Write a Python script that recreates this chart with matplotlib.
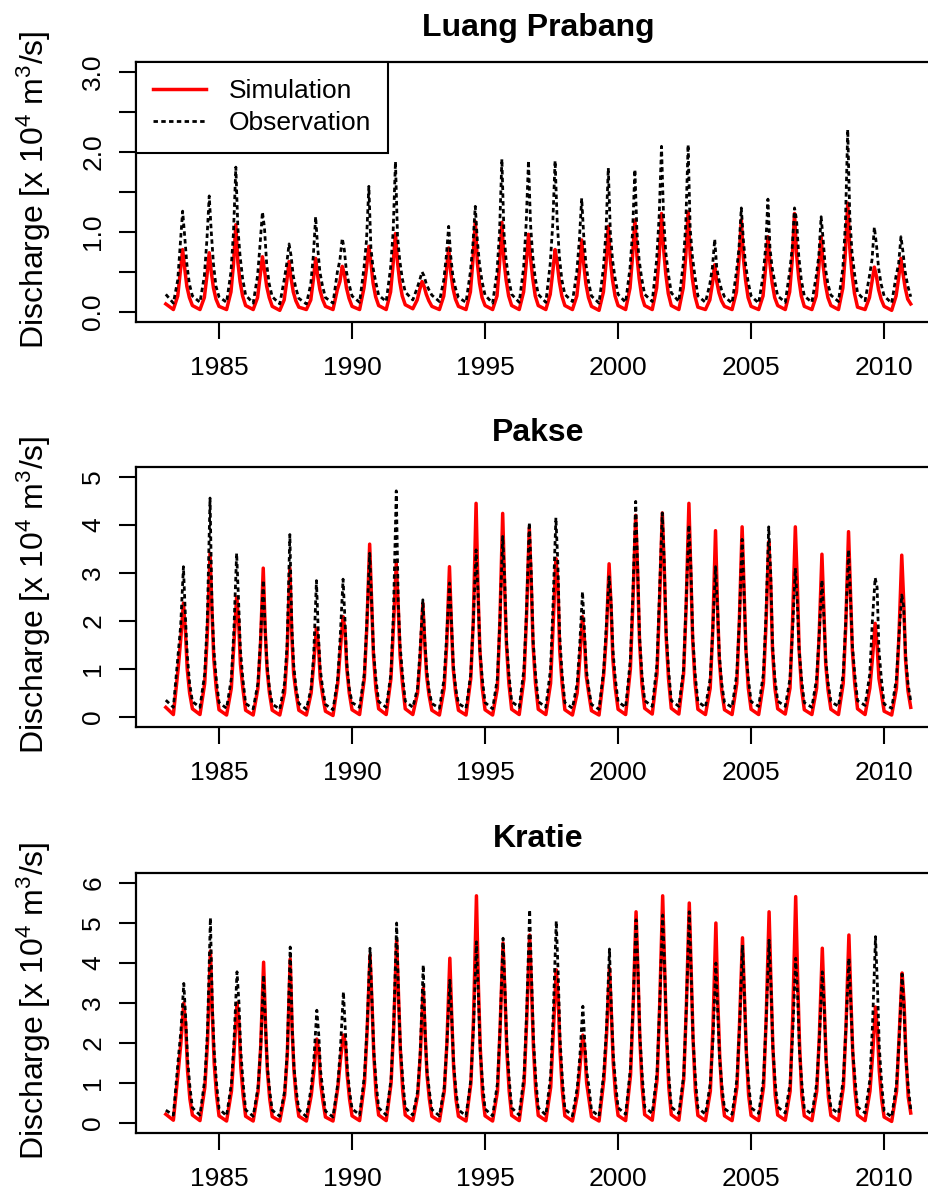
import numpy as np
import matplotlib
matplotlib.use("Agg")
import matplotlib.pyplot as plt

plt.rcParams["font.family"] = ["Liberation Sans", "DejaVu Sans"]
plt.rcParams["mathtext.fontset"] = "custom"
plt.rcParams["mathtext.rm"] = "Liberation Sans"
plt.rcParams["mathtext.it"] = "Liberation Sans"

# hydrological years shown
years = list(range(1983, 2011))
year_ticks = [1985, 1990, 1995, 2000, 2005, 2010]

# day-of-year of the key points read for each year (jan, low, jun, jul, peak, sep, oct, nov)
lp_days = [1, 105, 165, 200, 232, 260, 290, 325]
pk_days = [1, 105, 170, 205, 243, 270, 295, 328]
kr_days = [1, 105, 172, 208, 248, 275, 300, 332]

# ---- Luang Prabang (x 10^4 m3/s) ----
lp_obs_jan = [0.22, 0.20, 0.19, 0.21, 0.19, 0.17, 0.18, 0.20, 0.21, 0.25, 0.21, 0.18, 0.21, 0.22, 0.22,
              0.22, 0.20, 0.22, 0.22, 0.24, 0.20, 0.19, 0.20, 0.20, 0.20, 0.21, 0.24, 0.20, 0.19]
lp_obs_low = [0.11, 0.12, 0.12, 0.11, 0.10, 0.10, 0.11, 0.12, 0.13, 0.15, 0.13, 0.12, 0.11, 0.12,
              0.12, 0.13, 0.11, 0.12, 0.13, 0.13, 0.12, 0.11, 0.11, 0.12, 0.12, 0.13, 0.14, 0.11]
lp_obs_jun = [0.40, 0.45, 0.50, 0.45, 0.40, 0.35, 0.50, 0.55, 0.55, 0.30, 0.40, 0.50, 0.50, 0.55,
              0.60, 0.50, 0.55, 0.55, 0.65, 0.60, 0.35, 0.50, 0.45, 0.50, 0.45, 0.55, 0.45, 0.45]
lp_obs_jul = [0.85, 0.90, 1.00, 0.85, 0.60, 0.70, 0.65, 0.90, 1.00, 0.40, 0.70, 0.85, 1.00, 1.10,
              1.10, 0.90, 1.00, 1.00, 1.20, 1.10, 0.55, 0.80, 0.80, 0.80, 0.70, 1.10, 0.65, 0.60]
lp_obs_peak = [1.26, 1.45, 1.81, 1.25, 0.85, 1.19, 0.92, 1.57, 1.88, 0.50, 1.07, 1.32, 1.91, 1.89,
               1.89, 1.42, 1.80, 1.78, 2.07, 2.09, 0.91, 1.30, 1.41, 1.30, 1.19, 2.28, 1.06, 0.94]
lp_obs_sep = [0.95, 1.00, 1.05, 1.05, 0.70, 0.80, 0.78, 0.80, 0.95, 0.45, 0.70, 0.90, 1.00, 1.10,
              1.15, 0.95, 1.00, 1.00, 1.20, 1.05, 0.55, 0.90, 0.80, 1.15, 0.90, 1.20, 0.85, 0.75]
lp_obs_oct = [0.60, 0.60, 0.70, 0.60, 0.45, 0.50, 0.50, 0.55, 0.65, 0.35, 0.45, 0.60, 0.65, 0.70,
              0.70, 0.60, 0.65, 0.65, 0.75, 0.70, 0.40, 0.60, 0.55, 0.70, 0.55, 0.75, 0.55, 0.50]
lp_obs_nov = [0.35, 0.32, 0.42, 0.35, 0.30, 0.33, 0.35, 0.38, 0.42, 0.28, 0.30, 0.38, 0.42, 0.42,
              0.40, 0.38, 0.42, 0.42, 0.48, 0.45, 0.28, 0.38, 0.38, 0.40, 0.35, 0.48, 0.35, 0.33]

lp_sim_jan = [0.10, 0.08, 0.07, 0.08, 0.07, 0.06, 0.07, 0.07, 0.08, 0.09, 0.07, 0.07, 0.08, 0.08, 0.08,
              0.08, 0.07, 0.08, 0.08, 0.08, 0.06, 0.07, 0.07, 0.08, 0.07, 0.08, 0.06, 0.07, 0.10]
lp_sim_low = [0.03, 0.03, 0.03, 0.03, 0.02, 0.03, 0.03, 0.03, 0.03, 0.04, 0.03, 0.03, 0.03, 0.03,
              0.03, 0.03, 0.02, 0.03, 0.03, 0.03, 0.03, 0.03, 0.03, 0.03, 0.03, 0.03, 0.03, 0.02]
lp_sim_jun = [0.20, 0.18, 0.25, 0.18, 0.15, 0.15, 0.28, 0.30, 0.25, 0.15, 0.20, 0.25, 0.20, 0.25,
              0.22, 0.20, 0.25, 0.30, 0.30, 0.30, 0.15, 0.25, 0.20, 0.25, 0.20, 0.30, 0.18, 0.20]
lp_sim_jul = [0.50, 0.45, 0.60, 0.45, 0.38, 0.40, 0.38, 0.55, 0.60, 0.28, 0.50, 0.65, 0.60, 0.60,
              0.50, 0.50, 0.60, 0.70, 0.70, 0.70, 0.35, 0.65, 0.55, 0.65, 0.55, 0.75, 0.38, 0.42]
lp_sim_peak = [0.78, 0.74, 1.09, 0.69, 0.63, 0.67, 0.57, 0.82, 0.98, 0.38, 0.80, 1.13, 1.12, 0.97,
               0.78, 0.90, 1.07, 1.15, 1.23, 1.25, 0.59, 1.15, 0.94, 1.23, 0.94, 1.36, 0.56, 0.67]
lp_sim_sep = [0.55, 0.50, 0.62, 0.52, 0.42, 0.45, 0.48, 0.62, 0.62, 0.32, 0.50, 0.62, 0.65, 0.68,
              0.62, 0.60, 0.65, 0.70, 0.80, 0.72, 0.38, 0.68, 0.60, 0.72, 0.58, 0.80, 0.45, 0.48]
lp_sim_oct = [0.32, 0.30, 0.38, 0.32, 0.25, 0.28, 0.30, 0.36, 0.38, 0.22, 0.30, 0.36, 0.40, 0.42,
              0.38, 0.35, 0.40, 0.42, 0.48, 0.42, 0.24, 0.40, 0.36, 0.42, 0.35, 0.48, 0.28, 0.30]
lp_sim_nov = [0.18, 0.16, 0.20, 0.18, 0.14, 0.16, 0.17, 0.19, 0.20, 0.14, 0.16, 0.18, 0.20, 0.20,
              0.20, 0.18, 0.20, 0.20, 0.23, 0.20, 0.14, 0.18, 0.18, 0.20, 0.18, 0.23, 0.16, 0.16]

# ---- Pakse ----
pk_obs_jan = [0.35, 0.32, 0.30, 0.28, 0.27, 0.28, 0.26, 0.30, 0.32, 0.33, 0.28, 0.28, 0.30, 0.32, 0.32,
              0.30, 0.26, 0.32, 0.34, 0.34, 0.32, 0.30, 0.32, 0.33, 0.30, 0.32, 0.34, 0.27, 0.33]
pk_obs_low = [0.20, 0.20, 0.18, 0.17, 0.16, 0.16, 0.15, 0.20, 0.20, 0.20, 0.18, 0.18, 0.17, 0.20,
              0.20, 0.18, 0.16, 0.20, 0.22, 0.22, 0.20, 0.20, 0.22, 0.22, 0.20, 0.22, 0.24, 0.18]
pk_obs_jun = [1.30, 0.90, 0.80, 0.70, 0.70, 0.60, 0.80, 0.90, 0.90, 0.60, 0.80, 0.90, 0.80, 1.00,
              1.00, 0.70, 1.00, 1.20, 1.10, 1.00, 0.80, 0.90, 0.90, 0.80, 0.80, 0.90, 0.90, 0.80]
pk_obs_jul = [1.90, 2.00, 1.80, 1.60, 1.50, 1.30, 1.70, 2.00, 2.20, 1.40, 1.70, 2.00, 2.00, 2.20,
              2.40, 1.50, 1.90, 2.60, 2.60, 2.40, 1.80, 2.00, 2.10, 1.80, 1.70, 2.00, 2.00, 1.70]
pk_obs_peak = [3.13, 4.56, 3.41, 2.85, 3.80, 2.84, 2.87, 3.41, 4.71, 2.44, 2.79, 3.48, 3.76, 4.05,
               4.15, 2.61, 2.92, 4.49, 4.25, 4.00, 3.13, 3.70, 3.96, 3.10, 2.85, 3.48, 2.90, 2.54]
pk_obs_sep = [2.10, 2.30, 2.40, 1.80, 1.90, 1.70, 2.00, 2.40, 2.40, 1.60, 2.00, 2.60, 2.90, 3.00,
              3.20, 1.80, 2.40, 3.10, 3.20, 3.10, 2.30, 2.60, 3.00, 2.40, 2.10, 2.50, 2.70, 2.30]
pk_obs_oct = [1.30, 1.40, 1.40, 1.10, 1.10, 1.00, 1.10, 1.40, 1.50, 1.00, 1.10, 1.40, 1.60, 1.60,
              1.70, 1.00, 1.40, 1.70, 1.80, 1.70, 1.30, 1.40, 1.50, 1.40, 1.20, 1.50, 1.40, 1.30]
pk_obs_nov = [0.70, 0.80, 0.80, 0.60, 0.60, 0.60, 0.60, 0.80, 0.90, 0.55, 0.60, 0.80, 0.90, 0.90,
              0.90, 0.60, 0.80, 0.90, 1.00, 0.90, 0.70, 0.80, 0.80, 0.80, 0.70, 0.90, 0.80, 0.70]

pk_sim_jan = [0.20, 0.17, 0.15, 0.14, 0.14, 0.14, 0.12, 0.15, 0.17, 0.17, 0.14, 0.14, 0.15, 0.16, 0.16,
              0.15, 0.13, 0.16, 0.18, 0.18, 0.16, 0.15, 0.16, 0.17, 0.15, 0.16, 0.17, 0.12, 0.20]
pk_sim_low = [0.05, 0.05, 0.04, 0.04, 0.04, 0.04, 0.03, 0.05, 0.05, 0.05, 0.04, 0.04, 0.04, 0.05,
              0.05, 0.04, 0.04, 0.05, 0.06, 0.06, 0.05, 0.05, 0.05, 0.06, 0.05, 0.05, 0.05, 0.04]
pk_sim_jun = [1.00, 0.70, 0.60, 0.60, 0.50, 0.50, 0.70, 0.80, 0.80, 0.50, 0.60, 0.80, 0.60, 0.80,
              0.70, 0.50, 0.90, 1.00, 0.90, 0.90, 0.60, 0.70, 0.70, 0.60, 0.60, 0.70, 0.60, 0.60]
pk_sim_jul = [1.60, 1.70, 1.50, 1.50, 1.30, 1.10, 1.40, 1.90, 1.90, 1.20, 1.50, 2.00, 2.00, 2.10,
              1.90, 1.20, 1.70, 2.40, 2.40, 2.30, 1.80, 2.00, 1.90, 2.00, 1.70, 1.90, 1.20, 1.70]
pk_sim_peak = [2.37, 3.41, 2.50, 3.10, 3.10, 1.85, 2.09, 3.60, 3.20, 2.37, 3.13, 4.45, 4.24, 3.94,
               3.30, 2.09, 3.19, 4.20, 4.25, 4.45, 3.88, 3.96, 3.65, 3.96, 3.39, 3.86, 1.95, 3.37]
pk_sim_sep = [1.80, 2.20, 2.00, 1.80, 1.70, 1.50, 1.80, 2.40, 2.30, 1.50, 1.90, 2.60, 2.70, 2.80,
              2.80, 1.60, 2.30, 3.00, 3.10, 3.00, 2.30, 2.60, 2.80, 2.80, 2.20, 2.60, 1.50, 2.40]
pk_sim_oct = [1.00, 1.20, 1.10, 1.00, 0.90, 0.80, 1.00, 1.30, 1.30, 0.85, 1.00, 1.40, 1.50, 1.50,
              1.40, 0.85, 1.20, 1.60, 1.70, 1.60, 1.20, 1.40, 1.40, 1.40, 1.10, 1.40, 0.80, 1.20]
pk_sim_nov = [0.50, 0.60, 0.60, 0.50, 0.50, 0.45, 0.50, 0.60, 0.70, 0.45, 0.50, 0.60, 0.70, 0.70,
              0.70, 0.50, 0.60, 0.70, 0.80, 0.70, 0.55, 0.60, 0.60, 0.60, 0.55, 0.70, 0.50, 0.55]

# ---- Kratie ----
kr_obs_jan = [0.32, 0.38, 0.36, 0.33, 0.32, 0.33, 0.30, 0.36, 0.38, 0.38, 0.34, 0.33, 0.35, 0.38, 0.38,
              0.35, 0.32, 0.38, 0.40, 0.40, 0.38, 0.36, 0.38, 0.40, 0.36, 0.38, 0.40, 0.30, 0.35]
kr_obs_low = [0.20, 0.20, 0.18, 0.17, 0.17, 0.16, 0.15, 0.20, 0.20, 0.20, 0.18, 0.18, 0.18, 0.20,
              0.20, 0.18, 0.17, 0.22, 0.24, 0.24, 0.22, 0.22, 0.24, 0.25, 0.22, 0.24, 0.25, 0.15]
kr_obs_jun = [1.60, 1.10, 1.00, 0.90, 0.80, 0.90, 1.00, 1.20, 1.10, 0.80, 0.90, 1.10, 1.00, 1.20,
              1.20, 0.90, 1.30, 1.40, 1.30, 1.20, 1.00, 1.10, 1.10, 1.00, 1.00, 1.10, 1.10, 1.00]
kr_obs_jul = [2.30, 2.30, 2.10, 1.90, 1.80, 1.60, 1.90, 2.40, 2.50, 1.80, 2.00, 2.40, 2.40, 2.80,
              2.80, 1.70, 2.40, 3.00, 3.00, 2.90, 2.10, 2.40, 2.60, 2.30, 2.10, 2.40, 2.50, 2.10]
kr_obs_peak = [3.49, 5.13, 3.78, 3.70, 4.40, 2.82, 3.28, 4.37, 5.00, 3.95, 3.57, 4.53, 4.62, 5.33,
               5.05, 2.92, 4.35, 5.08, 5.20, 5.28, 4.00, 4.45, 4.57, 4.12, 3.78, 4.12, 4.66, 3.72]
kr_obs_sep = [2.60, 2.90, 3.00, 2.40, 2.40, 2.20, 2.30, 3.00, 3.10, 2.20, 2.60, 3.20, 3.30, 3.60,
              3.70, 2.00, 2.80, 3.80, 3.90, 3.70, 2.70, 3.20, 3.40, 3.20, 2.90, 3.00, 3.40, 2.80]
kr_obs_oct = [1.60, 1.80, 1.80, 1.40, 1.40, 1.30, 1.40, 1.80, 1.90, 1.30, 1.50, 1.80, 2.00, 2.10,
              2.10, 1.30, 1.70, 2.20, 2.30, 2.10, 1.60, 1.80, 1.90, 1.80, 1.60, 1.80, 1.90, 1.60]
kr_obs_nov = [0.90, 1.00, 1.00, 0.80, 0.80, 0.80, 0.80, 1.00, 1.10, 0.80, 0.80, 1.00, 1.10, 1.10,
              1.10, 0.90, 1.00, 1.20, 1.20, 1.10, 0.90, 1.00, 1.00, 1.00, 0.90, 1.10, 1.00, 0.90]

kr_sim_jan = [0.22, 0.20, 0.18, 0.17, 0.16, 0.17, 0.15, 0.18, 0.20, 0.20, 0.17, 0.17, 0.18, 0.19, 0.19,
              0.18, 0.16, 0.19, 0.21, 0.21, 0.19, 0.18, 0.19, 0.20, 0.18, 0.19, 0.20, 0.15, 0.25]
kr_sim_low = [0.07, 0.06, 0.05, 0.05, 0.05, 0.05, 0.05, 0.06, 0.06, 0.06, 0.05, 0.05, 0.05, 0.06,
              0.06, 0.05, 0.05, 0.06, 0.07, 0.07, 0.06, 0.06, 0.06, 0.07, 0.06, 0.06, 0.06, 0.04]
kr_sim_jun = [1.30, 0.90, 0.80, 0.80, 0.70, 0.70, 0.90, 1.00, 1.00, 0.70, 0.80, 1.00, 0.80, 1.00,
              0.90, 0.70, 1.10, 1.20, 1.10, 1.10, 0.80, 0.90, 0.90, 0.80, 0.80, 0.90, 0.80, 0.80]
kr_sim_jul = [2.00, 2.00, 1.80, 1.90, 1.70, 1.30, 1.60, 2.30, 2.40, 1.70, 2.00, 2.60, 2.40, 2.60,
              2.30, 1.40, 2.20, 2.90, 3.00, 2.90, 2.40, 2.50, 2.60, 2.70, 2.20, 2.40, 1.70, 2.20]
kr_sim_peak = [3.00, 4.30, 3.00, 4.02, 4.10, 2.10, 2.20, 4.20, 4.57, 3.37, 4.12, 5.68, 4.50, 4.70,
               3.83, 2.20, 3.87, 5.28, 5.68, 5.50, 5.00, 4.63, 5.28, 5.66, 4.37, 4.70, 2.90, 3.75]
kr_sim_sep = [2.40, 2.70, 2.50, 2.40, 2.30, 1.80, 2.00, 3.00, 3.10, 2.20, 2.60, 3.40, 3.20, 3.30,
              3.10, 1.80, 2.70, 3.70, 3.90, 3.70, 3.00, 3.20, 3.40, 3.60, 2.90, 3.10, 2.30, 3.00]
kr_sim_oct = [1.30, 1.50, 1.40, 1.30, 1.30, 1.00, 1.20, 1.70, 1.80, 1.20, 1.40, 1.90, 1.80, 1.90,
              1.80, 1.00, 1.50, 2.10, 2.20, 2.10, 1.70, 1.80, 1.90, 2.00, 1.60, 1.80, 1.30, 1.70]
kr_sim_nov = [0.60, 0.70, 0.70, 0.60, 0.60, 0.55, 0.60, 0.70, 0.80, 0.60, 0.60, 0.70, 0.80, 0.80,
              0.80, 0.60, 0.70, 0.90, 0.90, 0.80, 0.70, 0.70, 0.70, 0.70, 0.65, 0.80, 0.60, 0.65]


def build(days, jan, *rest):
    # put the yearly key values on a decimal-year time axis
    xs, ys = [], []
    for i, yr in enumerate(years):
        vals = [jan[i]] + [arr[i] for arr in rest]
        for d, v in zip(days, vals):
            xs.append(yr + (d - 1) / 365.25)
            ys.append(v)
    xs.append(years[-1] + 1)
    ys.append(jan[-1])
    return xs, ys


panels = [
    ("Luang Prabang", 0.7307, (-0.12, 3.12), [0, 0.5, 1, 1.5, 2, 2.5, 3],
     ["0.0", "", "1.0", "", "2.0", "", "3.0"],
     build(lp_days, lp_sim_jan, lp_sim_low, lp_sim_jun, lp_sim_jul, lp_sim_peak, lp_sim_sep,
           lp_sim_oct, lp_sim_nov),
     build(lp_days, lp_obs_jan, lp_obs_low, lp_obs_jun, lp_obs_jul, lp_obs_peak, lp_obs_sep,
           lp_obs_oct, lp_obs_nov)),
    ("Pakse", 0.3915, (-0.2, 5.2), [0, 1, 2, 3, 4, 5], ["0", "1", "2", "3", "4", "5"],
     build(pk_days, pk_sim_jan, pk_sim_low, pk_sim_jun, pk_sim_jul, pk_sim_peak, pk_sim_sep,
           pk_sim_oct, pk_sim_nov),
     build(pk_days, pk_obs_jan, pk_obs_low, pk_obs_jun, pk_obs_jul, pk_obs_peak, pk_obs_sep,
           pk_obs_oct, pk_obs_nov)),
    ("Kratie", 0.0514, (-0.24, 6.24), [0, 1, 2, 3, 4, 5, 6], ["0", "1", "2", "3", "4", "5", "6"],
     build(kr_days, kr_sim_jan, kr_sim_low, kr_sim_jun, kr_sim_jul, kr_sim_peak, kr_sim_sep,
           kr_sim_oct, kr_sim_nov),
     build(kr_days, kr_obs_jan, kr_obs_low, kr_obs_jun, kr_obs_jul, kr_obs_peak, kr_obs_sep,
           kr_obs_oct, kr_obs_nov)),
]

fig = plt.figure(figsize=(9.29, 11.94), dpi=100)
W, H = 0.866, 0.2171

for name, bottom, ylim, yt, ytl, sim, obs in panels:
    ax = fig.add_axes([0.1464, bottom, W, H])
    ax.plot(sim[0], sim[1], color="red", lw=2.5, label="Simulation")
    ax.plot(obs[0], obs[1], color="black", lw=2.0, linestyle=(0, (1.6, 1.2)), label="Observation")
    ax.set_xlim(1981.88, 2012.12)
    ax.set_ylim(*ylim)
    ax.set_xticks(year_ticks)
    ax.set_xticklabels([str(y) for y in year_ticks])
    ax.set_yticks(yt)
    ax.set_yticklabels(ytl, rotation=90, va="center")
    ax.tick_params(length=12, width=1.5, labelsize=19, color="black")
    ax.tick_params(axis="x", pad=13)
    ax.tick_params(axis="y", pad=10)
    for s in ax.spines.values():
        s.set_linewidth(1.6)
    ax.spines["right"].set_visible(False)  # box runs past the cropped right edge
    ax.text(0.5, 1 + 34 / 259.2, name, transform=ax.transAxes, ha="center", va="center",
            fontsize=23, fontweight="bold")
    fig.text(34 / 929, bottom + H / 2 + 0.002, r"Discharge [x 10$^4$ m$^3$/s]", rotation=90,
             ha="center", va="center", fontsize=23)
    if name == "Luang Prabang":
        leg = ax.legend(loc="upper left", bbox_to_anchor=(0, 1), borderaxespad=0, fontsize=19,
                        fancybox=False, framealpha=1, edgecolor="black", handlelength=2.0,
                        handletextpad=0.85, labelspacing=0.3, borderpad=0.65)
        leg.get_frame().set_linewidth(1.5)

fig.savefig("out.png", dpi=100)
